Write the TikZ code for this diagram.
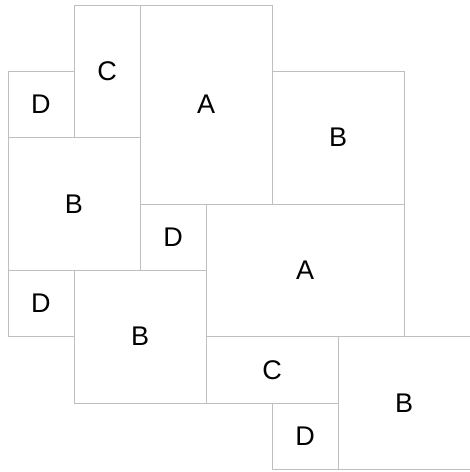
\documentclass[tikz,border=0pt]{standalone}
\usepackage{fontspec}
\setmainfont{Liberation Sans}
\usepackage{tikz}
\usetikzlibrary{positioning}

\begin{document}
\begin{tikzpicture}[
  x=66pt, y=-66.33pt,
  blk/.style 2 args={draw=gray!50,line width=0.7pt,inner sep=0pt,outer sep=0pt,
    font=\fontsize{27}{32}\selectfont,
    minimum width=#1*66pt,minimum height=#2*66.33pt},
]
\useasboundingbox (-0.121,-0.075) rectangle (6.985,7.04);
\node[blk={1}{2}] (c1) at (1.5,1) {C};
\node[blk={1}{1}] (d1) at (0.5,1.5) {D};
\node[blk={2}{3}] (a1) at (3,1.5) {A};
\node[blk={2}{2}] (b1) at (5,2) {B};
\node[blk={2}{2}] (b2) at (1,3) {B};
\node[blk={1}{1}] (d2) at (2.5,3.5) {D};
\node[blk={3}{2}] (a2) at (4.5,4) {A};
\node[blk={1}{1}] (d3) at (0.5,4.5) {D};
\node[blk={2}{2}] (b3) at (2,5) {B};
\node[blk={2}{1}] (c2) at (4,5.5) {C};
\node[blk={2}{2}] (b4) at (6,6) {B};
\node[blk={1}{1}] (d4) at (4.5,6.5) {D};
\end{tikzpicture}
\end{document}
